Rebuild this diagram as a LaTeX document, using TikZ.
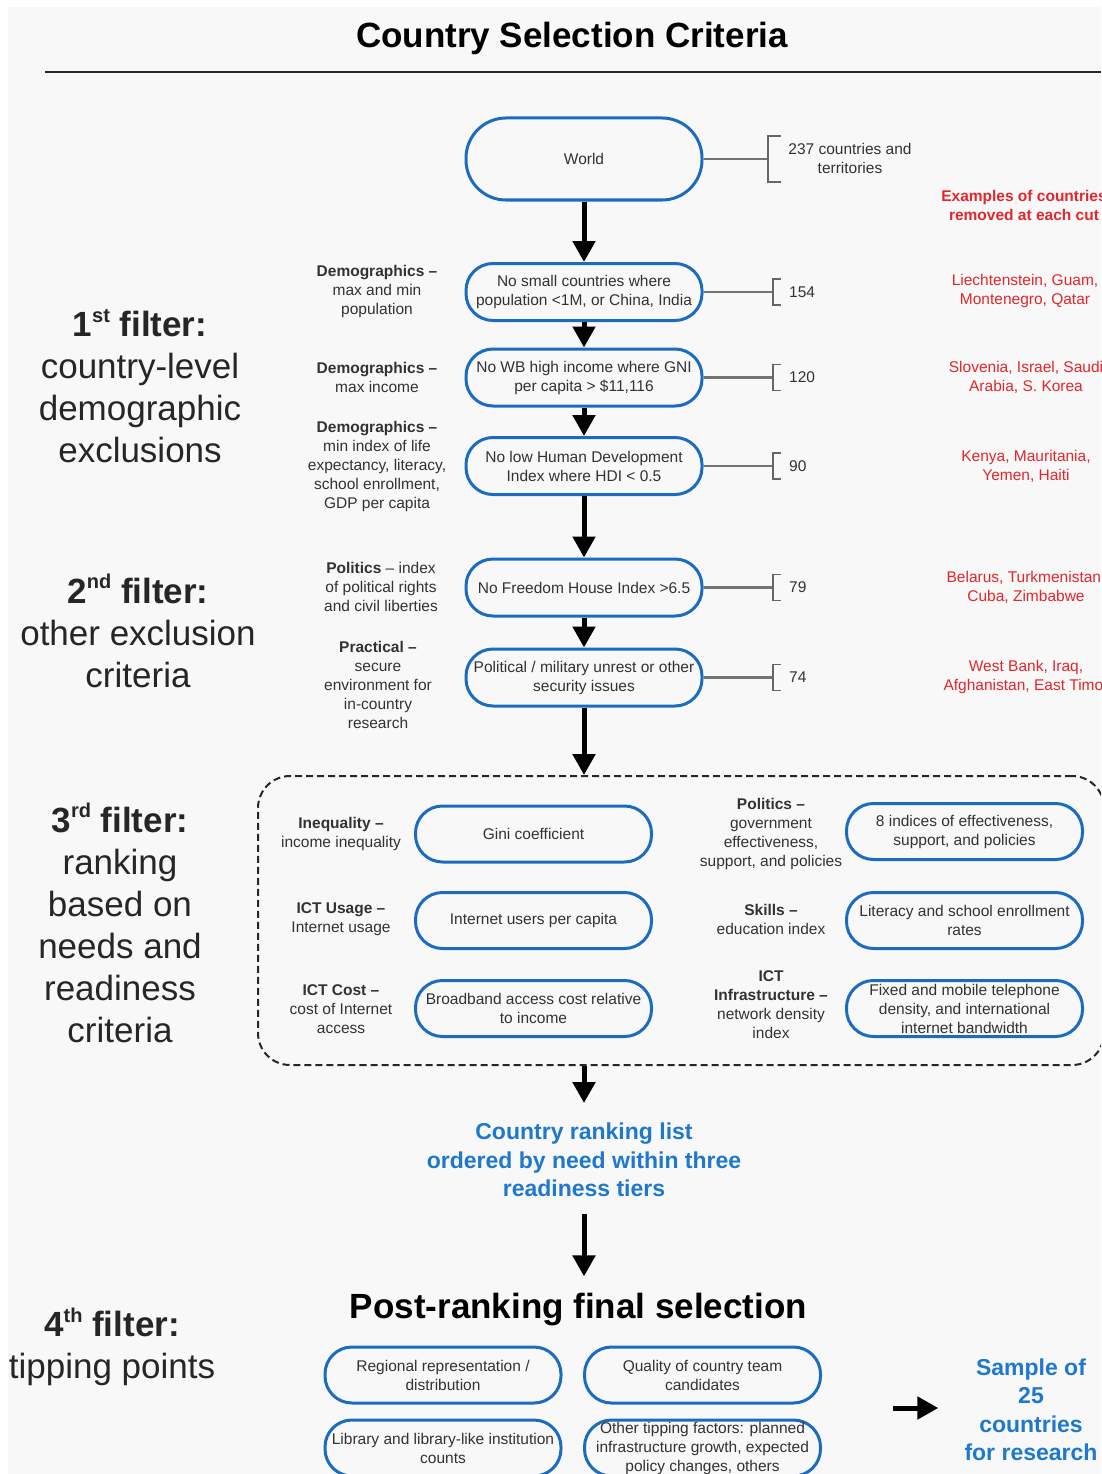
\documentclass[tikz,border=0pt]{standalone}
\usepackage{fontspec}
\setmainfont{Liberation Sans}
\usetikzlibrary{arrows.meta}
\definecolor{boxblue}{RGB}{27,108,192}
\definecolor{txtblue}{RGB}{30,120,205}
\definecolor{cutred}{RGB}{226,38,44}
\definecolor{bgc}{RGB}{248,248,248}
\definecolor{txt}{RGB}{50,50,50}
\newcommand{\mysup}[1]{\raisebox{0.42em}{\fontsize{20}{20}\selectfont #1}}
\begin{document}
\begin{tikzpicture}[x=1pt,y=-1pt,
  pill/.style={draw=boxblue, line width=3pt, rounded corners=27pt, minimum width=236pt, minimum height=57pt, inner sep=0pt, align=center, text=txt, font=\fontsize{15.5}{19}\selectfont},
  lab/.style={align=center, inner sep=0pt, text=txt, font=\fontsize{15.5}{19}\selectfont},
  redtxt/.style={align=center, inner sep=0pt, text=cutred, font=\fontsize{15.5}{19}\selectfont},
  numtxt/.style={anchor=west, inner sep=0pt, text=txt, font=\fontsize{15.5}{19}\selectfont},
  biglab/.style={align=center, inner sep=0pt, text=black!85, font=\fontsize{35}{42}\selectfont},
  bluetxt/.style={align=center, inner sep=0pt, text=txtblue, font=\fontsize{23}{28.5}\selectfont\bfseries},
  bigarrow/.style={line width=5pt, -{Triangle[length=21pt,width=22pt]}},
  conn/.style={draw=black!55, line width=2.2pt},
  brk/.style={draw=black!60, line width=1.5pt},
  dashbox/.style={draw=black!85, line width=2pt, dash pattern=on 7pt off 4pt, rounded corners=32pt, inner sep=0pt}
]
\useasboundingbox (0,0) rectangle (1101,1474);
\clip (0,0) rectangle (1101,1474);
\fill[white] (0,0) rectangle (1101,1474);
\fill[bgc] (8,7) rectangle (1101,1474);

% title
\node[inner sep=0pt, font=\fontsize{35}{42}\selectfont\bfseries] (title) at (572,38) {Country Selection Criteria};
\coordinate (hl1) at (45,72);
\coordinate (hl2) at (1101,72);
\draw[line width=2.5pt, black!85] (hl1) -- (hl2);

% main flow boxes
\node[pill, minimum height=82pt, rounded corners=40pt] (world) at (584,159) {World};
\node[pill] (b1) at (584,292) {No small countries where\\population <1M, or China, India};
\node[pill] (b2) at (584,377.5) {No WB high income where GNI\\per capita > \$11,116};
\node[pill] (b3) at (584,466) {No low Human Development\\Index where HDI < 0.5};
\node[pill] (b4) at (584,587.5) {No Freedom House Index >6.5};
\node[pill] (b5) at (584,677.5) {Political / military unrest or other\\security issues};

\draw[bigarrow] (world) -- (b1);
\draw[bigarrow] (b1) -- (b2);
\draw[bigarrow] (b2) -- (b3);
\draw[bigarrow] (b3) -- (b4);
\draw[bigarrow] (b4) -- (b5);

% brackets and counts
\coordinate (k0) at (768,159);
\draw[conn] (world.east) -- (k0);
\draw[brk] (k0) ++(13,-23) -- ++(-13,0) -- ++(0,46) -- ++(13,0);
\node[lab] (n0) at (850,158) {237 countries and\\territories};

\coordinate (k1) at (773,292);
\draw[conn] (b1.east) -- (k1);
\draw[brk] (k1) ++(8,-13) -- ++(-8,0) -- ++(0,26) -- ++(8,0);
\node[numtxt] (n1) at (789,292) {154};

\coordinate (k2) at (773,377.5);
\draw[conn] (b2.east) -- (k2);
\draw[brk] (k2) ++(8,-13) -- ++(-8,0) -- ++(0,26) -- ++(8,0);
\node[numtxt] (n2) at (789,377.5) {120};

\coordinate (k3) at (773,466);
\draw[conn] (b3.east) -- (k3);
\draw[brk] (k3) ++(8,-13) -- ++(-8,0) -- ++(0,26) -- ++(8,0);
\node[numtxt] (n3) at (789,466) {90};

\coordinate (k4) at (773,587.5);
\draw[conn] (b4.east) -- (k4);
\draw[brk] (k4) ++(8,-13) -- ++(-8,0) -- ++(0,26) -- ++(8,0);
\node[numtxt] (n4) at (789,587.5) {79};

\coordinate (k5) at (773,677.5);
\draw[conn] (b5.east) -- (k5);
\draw[brk] (k5) ++(8,-13) -- ++(-8,0) -- ++(0,26) -- ++(8,0);
\node[numtxt] (n5) at (789,677.5) {74};

% red examples
\node[redtxt, font=\fontsize{15.5}{19}\selectfont\bfseries] (ex0) at (1024,205) {Examples of countries\\removed at each cut};
\node[redtxt] (ex1) at (1025,291) {Liechtenstein, Guam,\\Montenegro, Qatar};
\node[redtxt] (ex2) at (1026,377) {Slovenia, Israel, Saudi\\Arabia, S. Korea};
\node[redtxt] (ex3) at (1026,466) {Kenya, Mauritania,\\Yemen, Haiti};
\node[redtxt] (ex4) at (1026,587) {Belarus, Turkmenistan,\\Cuba, Zimbabwe};
\node[redtxt] (ex5) at (1026,677) {West Bank, Iraq,\\Afghanistan, East Timor};

% left criteria labels
\node[lab] (l1) at (377,291) {\textbf{Demographics –}\\max and min\\population};
\node[lab] (l2) at (377,377.5) {\textbf{Demographics –}\\max income};
\node[lab] (l3) at (377,466) {\textbf{Demographics –}\\min index of life\\expectancy, literacy,\\school enrollment,\\GDP per capita};
\node[lab] (l4) at (381,587) {\textbf{Politics} – index\\of political rights\\and civil liberties};
\node[lab] (l5) at (378,685) {\textbf{Practical –}\\secure\\environment for\\in-country\\research};

% big filter labels
\node[biglab] (f1) at (140,386) {\textbf{1\mysup{st} filter:}\\country-level\\demographic\\exclusions};
\node[biglab] (f2) at (138,631) {\textbf{2\mysup{nd} filter:}\\other exclusion\\criteria};
\node[biglab] (f3) at (120,923) {\textbf{3\mysup{rd} filter:}\\ranking\\based on\\needs and\\readiness\\criteria};
\node[biglab] (f4) at (112,1347) {\textbf{4\mysup{th} filter:}\\tipping points};

% 3rd filter dashed region
\node[dashbox, minimum width=846pt, minimum height=289pt] (rank) at (681,920.5) {};
\draw[bigarrow] (b5.south) -- (b5.south |- rank.north);

\node[pill, minimum height=56pt] (r1) at (533.5,834) {Gini coefficient};
\node[pill, minimum height=56pt] (r2) at (533.5,920.5) {Internet users per capita};
\node[pill, minimum height=56pt] (r3) at (533.5,1008.5) {Broadband access cost relative\\to income};
\node[pill, minimum height=56pt] (r4) at (964.5,831.5) {8 indices of effectiveness,\\support, and policies};
\node[pill, minimum height=56pt] (r5) at (964.5,920.5) {Literacy and school enrollment\\rates};
\node[pill, minimum height=56pt] (r6) at (964.5,1008.5) {Fixed and mobile telephone\\density, and international\\internet bandwidth};

\node[lab] (q1) at (341,834) {\textbf{Inequality –}\\income inequality};
\node[lab] (q2) at (341,919) {\textbf{ICT Usage –}\\Internet usage};
\node[lab] (q3) at (341,1009) {\textbf{ICT Cost –}\\cost of Internet\\access};
\node[lab] (q4) at (771,834) {\textbf{Politics –}\\government\\effectiveness,\\support, and policies};
\node[lab] (q5) at (771,919) {\textbf{Skills –}\\education index};
\node[lab] (q6) at (771,1005) {\textbf{ICT}\\\textbf{Infrastructure –}\\network density\\index};

% ranking list
\node[bluetxt] (list) at (584,1160) {Country ranking list\\ordered by need within three\\readiness tiers};
\coordinate (t1) at (584,1103);
\draw[bigarrow] (rank.south -| t1) -- (t1);

\node[inner sep=0pt, font=\fontsize{35}{42}\selectfont\bfseries] (post) at (578.5,1310) {Post-ranking final selection};
\draw[bigarrow, shorten <=17pt, shorten >=17pt] (list.south) -- (list.south |- post.north);

% final boxes
\node[pill, minimum height=56pt] (p1) at (443,1375) {Regional representation /\\distribution};
\node[pill, minimum height=56pt] (p2) at (702.5,1375) {Quality of country team\\candidates};
\node[pill, minimum height=56pt] (p3) at (443,1448) {Library and library-like institution\\counts};
\node[pill, minimum height=56pt] (p4) at (702.5,1448) {Other tipping factors: planned\\infrastructure growth, expected\\policy changes, others};

\node[bluetxt] (sample) at (1031,1410) {Sample of\\25\\countries\\for research};
\coordinate (a0) at (893,1408);
\draw[line width=5pt, -{Triangle[length=21pt,width=22pt]}, shorten >=26pt] (a0) -- (a0 -| sample.west);
\end{tikzpicture}
\end{document}
